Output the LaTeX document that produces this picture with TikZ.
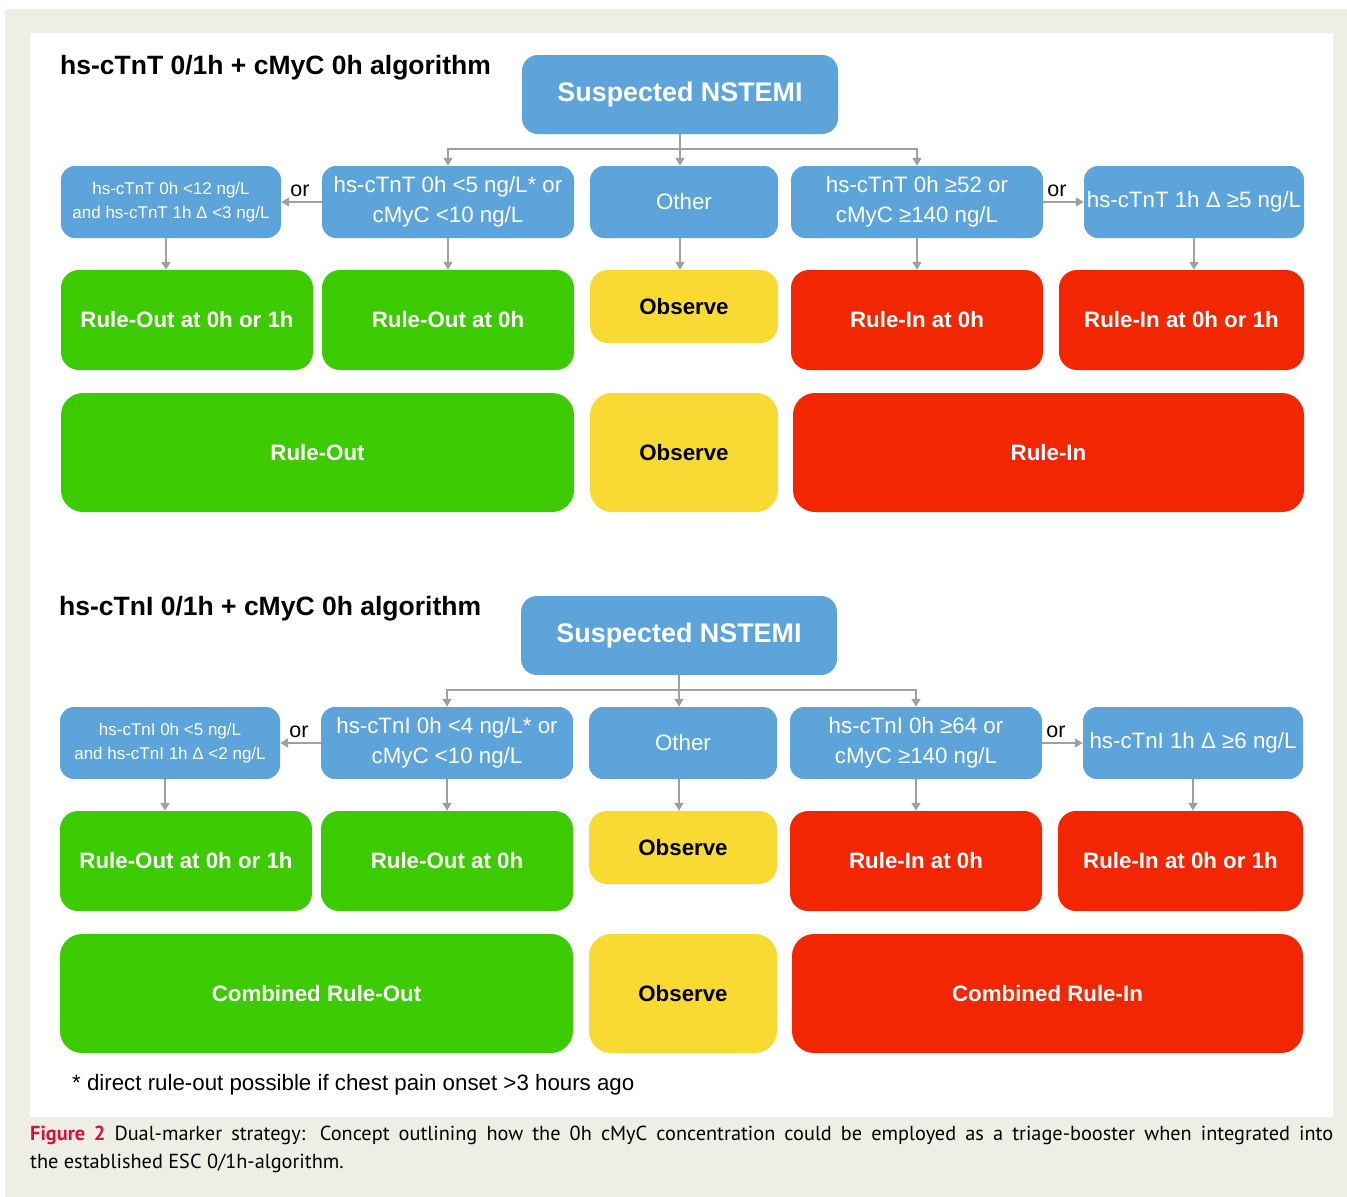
\documentclass[tikz,border=0pt]{standalone}
\usepackage{fontspec}
\setmainfont{Liberation Sans}
\newfontfamily\capfont{PT Sans}
\usetikzlibrary{arrows.meta,calc}

\definecolor{nodeblue}{RGB}{92,164,218}
\definecolor{outgreen}{RGB}{60,202,0}
\definecolor{obsyellow}{RGB}{249,218,50}
\definecolor{inred}{RGB}{242,38,0}
\definecolor{arrowgray}{RGB}{160,160,160}
\definecolor{pagebeige}{RGB}{239,238,228}
\definecolor{figred}{RGB}{212,16,62}

\tikzset{
  box/.style={inner sep=0pt, align=center, text=white},
  cond/.style={box, fill=nodeblue, rounded corners=14pt, minimum height=72pt,
    font=\fontsize{22.3}{30}\selectfont},
  smallcond/.style={cond, font=\fontsize{17}{24}\selectfont},
  susp/.style={box, fill=nodeblue, rounded corners=16pt, minimum width=316pt,
    minimum height=79pt, font=\bfseries\fontsize{26.9}{30}\selectfont},
  decide/.style={box, rounded corners=18pt, minimum height=100pt,
    font=\bfseries\fontsize{22.3}{26}\selectfont},
  final/.style={box, rounded corners=22pt, minimum height=119pt,
    font=\bfseries\fontsize{22.3}{26}\selectfont},
  arr/.style={draw=arrowgray, line width=2pt, -{Triangle[length=8pt,width=9pt]}},
  title/.style={anchor=base west, inner sep=0pt, font=\bfseries\fontsize{26.5}{30}\selectfont},
  ortext/.style={anchor=base, inner sep=0pt, font=\fontsize{21.5}{24}\selectfont}
}

\begin{document}
\begin{tikzpicture}[x=1pt,y=-1pt]
\useasboundingbox (0,0) rectangle (1347,1197);
\fill[white] (0,0) rectangle (1347,1197);
\fill[pagebeige] (5,9) rectangle (1347,1197);
\fill[white] (30,33) rectangle (1333,1117);

% hs-cTnT algorithm
\node[title] (tTitle) at (60,74) {hs-cTnT 0/1h + cMyC 0h algorithm};
\node[susp] (tS) at (680,94.5) {Suspected NSTEMI};
\node[smallcond, minimum width=220pt] (tA) at (171,202) {hs-cTnT 0h <12 ng/L\\and hs-cTnT 1h Δ <3 ng/L};
\node[cond, minimum width=252pt] (tB) at (448,202) {hs-cTnT 0h <5 ng/L* or\\cMyC <10 ng/L};
\node[cond, minimum width=188pt] (tC) at (684,202) {Other};
\node[cond, minimum width=252pt] (tD) at (917,202) {hs-cTnT 0h ≥52 or\\cMyC ≥140 ng/L};
\node[cond, minimum width=220pt] (tE) at (1194,202) {hs-cTnT 1h Δ ≥5 ng/L};
\node[ortext] (tOr1) at (300,196) {or};
\node[ortext] (tOr2) at (1057,196) {or};
\node[decide, fill=outgreen, minimum width=252pt] (tR1) at (187,320) {Rule-Out at 0h or 1h};
\node[decide, fill=outgreen, minimum width=252pt] (tR2) at (448,320) {Rule-Out at 0h};
\node[decide, fill=obsyellow, text=black, minimum width=188pt, minimum height=73pt] (tR3) at (684,306.5) {Observe};
\node[decide, fill=inred, minimum width=252pt] (tR4) at (917,320) {Rule-In at 0h};
\node[decide, fill=inred, minimum width=245pt] (tR5) at (1181.5,320) {Rule-In at 0h or 1h};
\node[final, fill=outgreen, minimum width=513pt] (tF1) at (317.5,452.5) {Rule-Out};
\node[final, fill=obsyellow, text=black, minimum width=188pt] (tF2) at (684,452.5) {Observe};
\node[final, fill=inred, minimum width=511pt] (tF3) at (1048.5,452.5) {Rule-In};
\coordinate (tJ) at (680,149);
\draw[arr] (tS.south) -- (tS.south |- tC.north);
\draw[arr] (tJ) -| (tB.north);
\draw[arr] (tJ) -| (tD.north);
\draw[arr] (tB.west) -- (tA.east);
\draw[arr] (tD.east) -- (tE.west);
\draw[arr] ([xshift=-5pt]tA.south) -- ([xshift=-5pt]tA.south |- tR1.north);
\draw[arr] (tB.south) -- (tR2.north);
\draw[arr] (tS.south |- tC.south) -- (tS.south |- tR3.north);
\draw[arr] (tD.south) -- (tR4.north);
\draw[arr] (tE.south) -- (tE.south |- tR5.north);

% hs-cTnI algorithm
\begin{scope}[xshift=-1pt,yshift=-541pt]
\node[title] (iTitle) at (60,74) {hs-cTnI 0/1h + cMyC 0h algorithm};
\node[susp] (iS) at (680,94.5) {Suspected NSTEMI};
\node[smallcond, minimum width=220pt] (iA) at (171,202) {hs-cTnI 0h <5 ng/L\\and hs-cTnI 1h Δ <2 ng/L};
\node[cond, minimum width=252pt] (iB) at (448,202) {hs-cTnI 0h <4 ng/L* or\\cMyC <10 ng/L};
\node[cond, minimum width=188pt] (iC) at (684,202) {Other};
\node[cond, minimum width=252pt] (iD) at (917,202) {hs-cTnI 0h ≥64 or\\cMyC ≥140 ng/L};
\node[cond, minimum width=220pt] (iE) at (1194,202) {hs-cTnI 1h Δ ≥6 ng/L};
\node[ortext] (iOr1) at (300,196) {or};
\node[ortext] (iOr2) at (1057,196) {or};
\node[decide, fill=outgreen, minimum width=252pt] (iR1) at (187,320) {Rule-Out at 0h or 1h};
\node[decide, fill=outgreen, minimum width=252pt] (iR2) at (448,320) {Rule-Out at 0h};
\node[decide, fill=obsyellow, text=black, minimum width=188pt, minimum height=73pt] (iR3) at (684,306.5) {Observe};
\node[decide, fill=inred, minimum width=252pt] (iR4) at (917,320) {Rule-In at 0h};
\node[decide, fill=inred, minimum width=245pt] (iR5) at (1181.5,320) {Rule-In at 0h or 1h};
\node[final, fill=outgreen, minimum width=513pt] (iF1) at (317.5,452.5) {Combined Rule-Out};
\node[final, fill=obsyellow, text=black, minimum width=188pt] (iF2) at (684,452.5) {Observe};
\node[final, fill=inred, minimum width=511pt] (iF3) at (1048.5,452.5) {Combined Rule-In};
\coordinate (iJ) at (680,149);
\draw[arr] (iS.south) -- (iS.south |- iC.north);
\draw[arr] (iJ) -| (iB.north);
\draw[arr] (iJ) -| (iD.north);
\draw[arr] (iB.west) -- (iA.east);
\draw[arr] (iD.east) -- (iE.west);
\draw[arr] ([xshift=-5pt]iA.south) -- ([xshift=-5pt]iA.south |- iR1.north);
\draw[arr] (iB.south) -- (iR2.north);
\draw[arr] (iS.south |- iC.south) -- (iS.south |- iR3.north);
\draw[arr] (iD.south) -- (iR4.north);
\draw[arr] (iE.south) -- (iE.south |- iR5.north);
\end{scope}

\node[anchor=base west, inner sep=0pt, font=\fontsize{22.3}{24}\selectfont] (note) at (72,1090)
  {* direct rule-out possible if chest pain onset >3 hours ago};

% caption
\node[anchor=base west, inner sep=0pt, font=\capfont\fontsize{20.3}{23}\selectfont] (cap1) at (30,1140)
  {\makebox[1303pt][s]{\textcolor{figred}{\bfseries Figure 2} Dual-marker strategy: Concept outlining how the 0h cMyC concentration could be employed as a triage-booster when integrated into}};
\node[anchor=base west, inner sep=0pt, font=\capfont\fontsize{20.3}{23}\selectfont] (cap2) at (30,1168)
  {the established ESC 0/1h-algorithm.};
\end{tikzpicture}
\end{document}
